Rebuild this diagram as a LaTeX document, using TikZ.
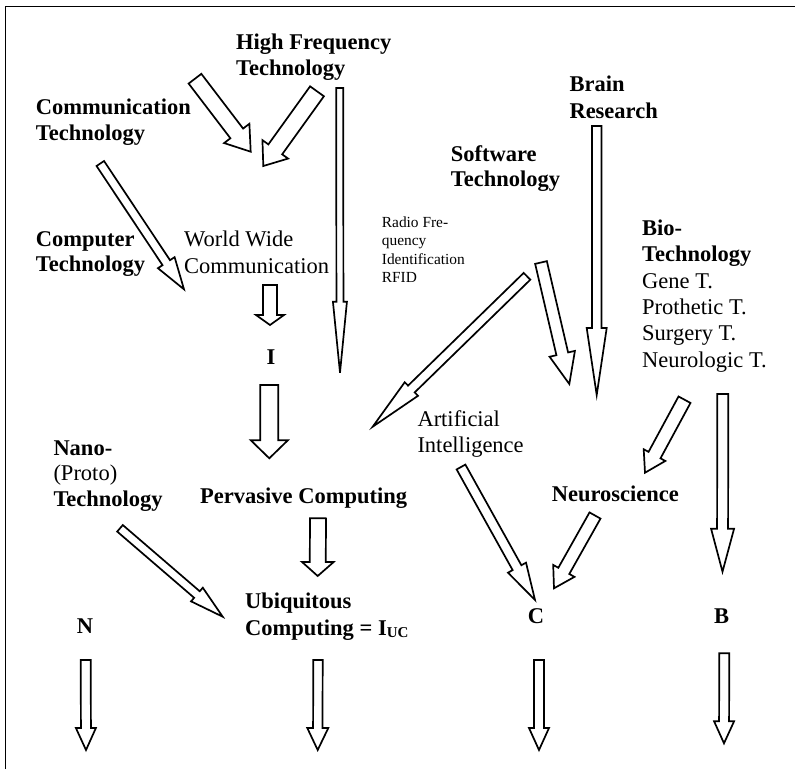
\documentclass[tikz,border=0pt]{standalone}
\usepackage{fontspec}
\setmainfont{Liberation Serif}
\usetikzlibrary{calc}

% block arrow: tail, tip, shaft half-width, head half-width, head length
\newcommand{\blockarrow}[5]{%
  \path ($(#2)!#5!(#1)$) coordinate (#2n);
  \draw[hollow] ($(#1)!#3!90:(#2)$) -- ($(#2n)!#3!90:(#2)$) -- ($(#2n)!#4!90:(#2)$) -- (#2)
     -- ($(#2n)!#4!-90:(#2)$) -- ($(#2n)!#3!-90:(#2)$) -- ($(#1)!#3!-90:(#2)$) -- cycle;
}

\begin{document}
\begin{tikzpicture}[x=1pt, y=-1pt,
  hollow/.style={draw=black, fill=white, line width=1.7pt, line join=miter},
  frame/.style={draw=black, line width=1.3pt},
  % multi-line labels are placed by the baseline of their last line
  big/.style={anchor=base west, inner sep=0pt, align=left,
    font=\fontsize{22.5}{26.4}\selectfont},
  bigb/.style={big, font=\fontsize{22.5}{25.5}\selectfont\bfseries},
  small/.style={anchor=base west, inner sep=0pt, align=left,
    font=\fontsize{15.4}{18.5}\selectfont},
  letter/.style={anchor=base, inner sep=0pt, font=\fontsize{22.5}{26}\selectfont\bfseries}]
\useasboundingbox (0,0) rectangle (795,769);

% frame (left and top edges)
\draw[frame] (5.5,769) -- (5.5,6.7) -- (795,6.7);

% labels
\node[bigb] (hf) at (236,75) {High Frequency\\Technology};
\node[bigb] (comm) at (35.7,140) {Communication\\Technology};
\node[bigb] (comp) at (35.7,271.7) {Computer\\Technology};
\node[big] (wwc) at (184,273.3) {World Wide\\Communication};
\node[small] (rfid) at (381.7,282.7) {Radio Fre-\\quency\\Identification\\RFID};
\node[bigb, font=\fontsize{22.5}{26.6}\selectfont\bfseries] (brain) at (569.3,118.3) {Brain\\Research};
\node[bigb] (soft) at (450.7,186.7) {Software\\Technology};
\node[big] (bio) at (642,367.3) {\textbf{Bio-}\\\textbf{Technology}\\Gene T.\\Prothetic T.\\Surgery T.\\Neurologic T.};
\node[letter] (I) at (271,364.3) {I};
\node[big] (ai) at (417.3,452.7) {Artificial\\Intelligence};
\node[big, font=\fontsize{22.5}{25.5}\selectfont] (nano) at (53.3,506) {\textbf{Nano-}\\(Proto)\\\textbf{Technology}};
\node[bigb] (perv) at (200,503.3) {Pervasive Computing};
\node[bigb] (neuro) at (551.7,501.7) {Neuroscience};
\node[bigb, font=\fontsize{22.5}{26.7}\selectfont\bfseries] (ubi) at (245,635)
  {Ubiquitous\\Computing = I\raisebox{-2.5pt}{\fontsize{15}{15}\selectfont UC}};
\node[letter] (N) at (85,633.3) {N};
\node[letter] (C) at (536,623.3) {C};
\node[letter] (B) at (721.7,623.3) {B};

% arrow end points
\coordinate (a1t) at (195,78.7);   \coordinate (a1h) at (250.7,151.7);
\coordinate (a2t) at (317,91.3);   \coordinate (a2h) at (263.3,166);
\coordinate (a3t) at (339.7,88);   \coordinate (a3h) at (340,372.7);
\coordinate (a4t) at (100.3,163.5); \coordinate (a4h) at (184,289.3);
\coordinate (a5t) at (270,285);    \coordinate (a5h) at (270,325);
\coordinate (a6t) at (269.3,385);  \coordinate (a6h) at (269.3,458.3);
\coordinate (a7t) at (527,276.3);  \coordinate (a7h) at (372.7,426.7);
\coordinate (a8t) at (541,262.5);  \coordinate (a8h) at (569.3,384);
\coordinate (a9t) at (596.7,126);  \coordinate (a9h) at (596.7,395);
\coordinate (a10t) at (684.5,399.7); \coordinate (a10h) at (645,472.7);
\coordinate (a11t) at (722.8,394); \coordinate (a11h) at (722.5,571.7);
\coordinate (a12t) at (461,467);   \coordinate (a12h) at (535,600);
\coordinate (a13t) at (595,515.5); \coordinate (a13h) at (554,588.3);
\coordinate (a14t) at (318,518.3); \coordinate (a14h) at (317.7,576);
\coordinate (a15t) at (120,528.3); \coordinate (a15h) at (222.7,616.7);
\coordinate (a16t) at (85.7,660);  \coordinate (a16h) at (86,750);
\coordinate (a17t) at (318,660);   \coordinate (a17h) at (317.7,750);
\coordinate (a18t) at (539,660);   \coordinate (a18h) at (539,750);
\coordinate (a19t) at (724.3,653.3); \coordinate (a19h) at (724,743.3);

% arrows
\blockarrow{a1t}{a1h}{8pt}{15.9pt}{23pt}
\blockarrow{a2t}{a2h}{8.5pt}{15.8pt}{20.5pt}
\blockarrow{a3t}{a3h}{3.5pt}{7pt}{71pt}
\blockarrow{a4t}{a4h}{4.5pt}{10pt}{32pt}
\blockarrow{a5t}{a5h}{7pt}{14pt}{10pt}
\blockarrow{a6t}{a6h}{9pt}{18.5pt}{18pt}
\blockarrow{a7t}{a7h}{4.75pt}{9.5pt}{54pt}
\blockarrow{a8t}{a8h}{6pt}{13pt}{31pt}
\blockarrow{a9t}{a9h}{4.7pt}{10pt}{67pt}
\blockarrow{a10t}{a10h}{6.8pt}{12.3pt}{20pt}
\blockarrow{a11t}{a11h}{5.5pt}{11.5pt}{43pt}
\blockarrow{a12t}{a12h}{5pt}{10.3pt}{37pt}
\blockarrow{a13t}{a13h}{6.3pt}{12.2pt}{20pt}
\blockarrow{a14t}{a14h}{8pt}{15.8pt}{14pt}
\blockarrow{a15t}{a15h}{4.3pt}{9pt}{34pt}
\blockarrow{a16t}{a16h}{5pt}{10pt}{22pt}
\blockarrow{a17t}{a17h}{4.7pt}{10.5pt}{22pt}
\blockarrow{a18t}{a18h}{5pt}{10pt}{22pt}
\blockarrow{a19t}{a19h}{5pt}{10pt}{22pt}
\end{tikzpicture}
\end{document}
